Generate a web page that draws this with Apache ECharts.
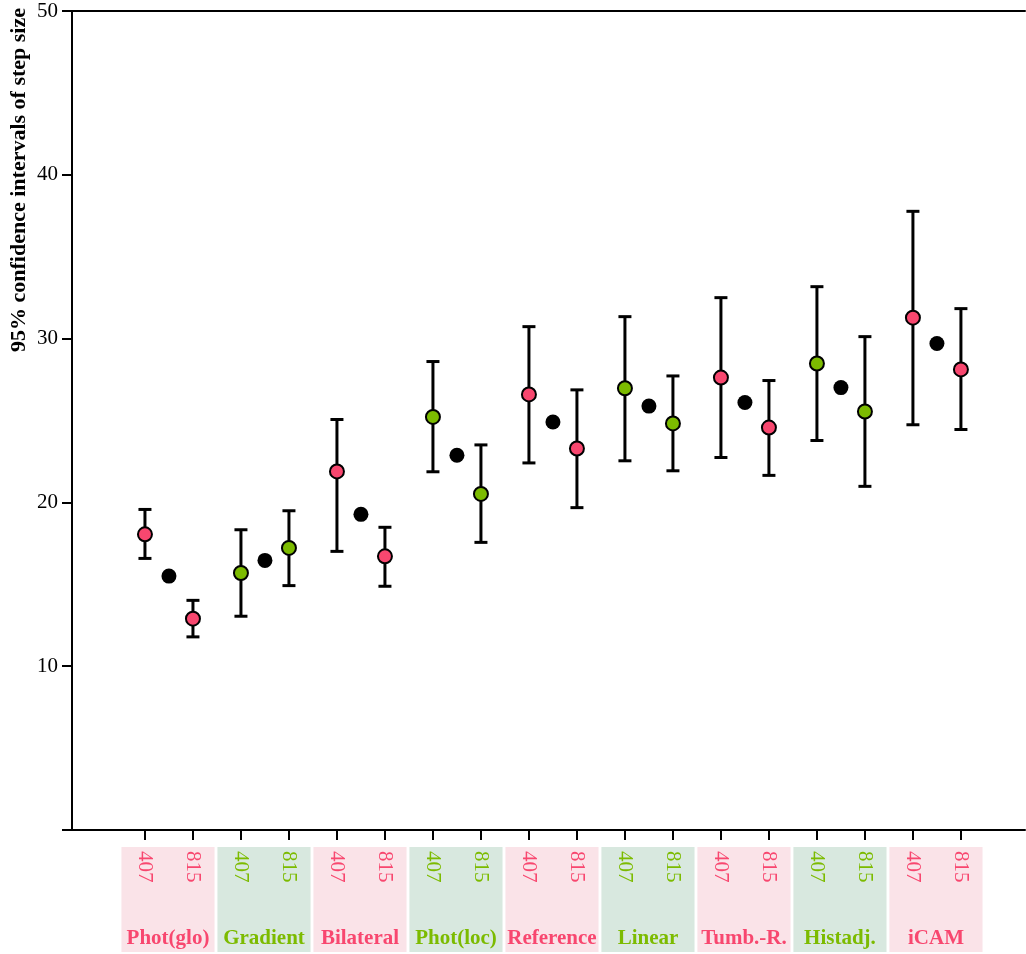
<!DOCTYPE html>
<html>
<head>
<meta charset="utf-8">
<script src="https://cdn.jsdelivr.net/npm/echarts@6/dist/echarts.min.js"></script>
<style>
html,body{margin:0;padding:0;background:#fff;}
#chart{width:1026px;height:954px;}
</style>
</head>
<body>
<div id="chart"></div>
<script>
// ---- data ----
const groups = ['Phot(glo)','Gradient','Bilateral','Phot(loc)','Reference','Linear','Tumb.-R.','Histadj.','iCAM'];
const tickNames = ['407','815'];
const val407  = [18.05,15.69,21.89,25.22,26.59,26.97,27.62,28.48,31.28];
const low407  = [16.58,13.05,17.01,21.87,22.41,22.54,22.74,23.78,24.74];
const high407 = [19.57,18.33,25.06,28.60,30.73,31.34,32.50,33.17,37.77];
const meanVal = [15.50,16.46,19.27,22.88,24.91,25.88,26.10,27.01,29.70];
const val815  = [12.90,17.22,16.71,20.52,23.29,24.82,24.57,25.55,28.12];
const low815  = [11.79,14.92,14.88,17.56,19.68,21.93,21.65,20.98,24.45];
const high815 = [14.02,19.49,18.48,23.51,26.87,27.72,27.44,30.12,31.83];
const yTicks = [0,10,20,30,40,50];

// ---- styles ----
const PINK = '#f8476f', GREEN = '#7cbb00';
const PINK_BG = '#fae3e8', GREEN_BG = '#d8e8df';
const FONT = '"Liberation Serif", "Times New Roman", serif';
const colorOf = g => (g % 2 === 0 ? PINK : GREEN);
const bgOf = g => (g % 2 === 0 ? PINK_BG : GREEN_BG);

// slot positions: each group has 4 slots (407, mean, 815, gap)
const pos407 = groups.map((_, g) => 4 * g);
const posMean = groups.map((_, g) => 4 * g + 1);
const pos815 = groups.map((_, g) => 4 * g + 2);

const errData = [];
const ptData = [];
groups.forEach((_, g) => {
  errData.push([pos407[g], low407[g], high407[g]]);
  errData.push([pos815[g], low815[g], high815[g]]);
  ptData.push({ value: [pos407[g], val407[g]], itemStyle: { color: colorOf(g) } });
  ptData.push({ value: [pos815[g], val815[g]], itemStyle: { color: colorOf(g) } });
});
const meanData = groups.map((_, g) => [posMean[g], meanVal[g]]);
const boxData = groups.map((_, g) => [posMean[g] - 0.04, g]);
const tickPositions = [];
groups.forEach((_, g) => { tickPositions.push(pos407[g], pos815[g]); });

const XMIN = -3.04, XMAX = 36.67;

const chart = echarts.init(document.getElementById('chart'), null, { renderer: 'canvas' });
chart.setOption({
  animation: false,
  backgroundColor: '#fff',
  grid: { left: 72, right: 1, top: 11, bottom: 124, containLabel: false },
  xAxis: [{
    type: 'value', min: XMIN, max: XMAX, position: 'bottom',
    axisLine: { show: true, onZero: false, lineStyle: { color: '#000', width: 2 } },
    splitLine: { show: false },
    axisTick: { show: true, inside: false, length: 10, customValues: tickPositions, lineStyle: { color: '#000', width: 2 } },
    axisLabel: {
      show: true, customValues: tickPositions, rotate: -90, margin: 21,
      fontFamily: FONT, fontSize: 21,
      formatter: v => tickNames[Math.round(v) % 4 === 0 ? 0 : 1],
      color: v => colorOf(Math.floor(Math.round(v) / 4))
    }
  }, {
    type: 'value', min: XMIN, max: XMAX, position: 'top',
    axisLine: { show: true, onZero: false, lineStyle: { color: '#000', width: 2 } },
    splitLine: { show: false }, axisTick: { show: false }, axisLabel: { show: false }
  }],
  yAxis: {
    type: 'value', min: yTicks[0], max: yTicks[yTicks.length - 1], interval: 10,
    axisLine: { show: true, onZero: false, lineStyle: { color: '#000', width: 2 } },
    splitLine: { show: false },
    axisTick: { show: true, length: 10, lineStyle: { color: '#000', width: 2 } },
    axisLabel: {
      margin: 14, fontFamily: FONT, fontSize: 21, color: '#000',
      formatter: v => (v === 0 ? '' : String(v))
    }
  },
  graphic: [{
    type: 'text', x: 19, y: 8, rotation: Math.PI / 2,
    style: {
      text: '95% confidence intervals of step size',
      font: 'bold 22px ' + FONT, fill: '#000',
      align: 'right', verticalAlign: 'middle'
    }
  }],
  series: [
    {
      type: 'custom', z: -1, clip: false, silent: true,
      data: boxData,
      renderItem: (params, api) => {
        const g = api.value(1);
        const c = api.coord([api.value(0), 0]);
        const w = api.size([3.88, 0])[0];
        return {
          type: 'group', children: [
            { type: 'rect', shape: { x: c[0] - w / 2, y: c[1] + 17, width: w, height: 105 },
              style: { fill: bgOf(g) } },
            { type: 'text', x: c[0], y: c[1] + 109,
              style: { text: groups[g], font: 'bold 21px ' + FONT, fill: colorOf(g),
                       align: 'center', verticalAlign: 'middle' } }
          ]
        };
      }
    },
    {
      type: 'custom', clip: false, silent: true,
      data: errData,
      renderItem: (params, api) => {
        const top = api.coord([api.value(0), api.value(2)]);
        const bot = api.coord([api.value(0), api.value(1)]);
        const hw = 6.5;
        const st = { stroke: '#000', lineWidth: 3 };
        return {
          type: 'group', children: [
            { type: 'line', shape: { x1: top[0], y1: top[1], x2: bot[0], y2: bot[1] }, style: st },
            { type: 'line', shape: { x1: top[0] - hw, y1: top[1], x2: top[0] + hw, y2: top[1] }, style: st },
            { type: 'line', shape: { x1: bot[0] - hw, y1: bot[1], x2: bot[0] + hw, y2: bot[1] }, style: st }
          ]
        };
      }
    },
    {
      type: 'scatter', symbol: 'circle', symbolSize: 14, z: 5,
      itemStyle: { borderColor: '#000', borderWidth: 2, opacity: 1 },
      data: ptData
    },
    {
      type: 'scatter', symbol: 'circle', symbolSize: 15, z: 5,
      itemStyle: { color: '#000', opacity: 1 },
      data: meanData
    }
  ]
});
</script>
</body>
</html>
